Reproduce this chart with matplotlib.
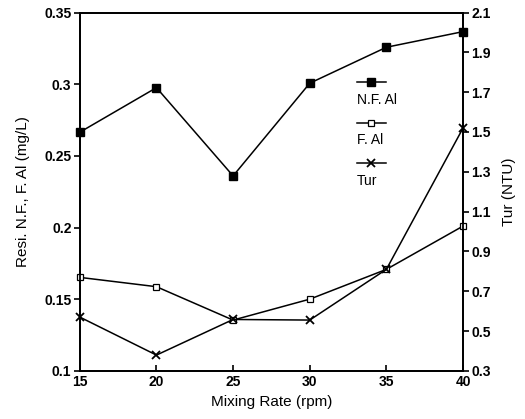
#mixing rate vs residual aluminium and turbidity

import matplotlib.pyplot as plt

plt.rcParams['font.family'] = ['Liberation Sans', 'DejaVu Sans']

#data
rate = [15, 20, 25, 30, 35, 40]
nf_al = [0.2665, 0.2976, 0.236, 0.3007, 0.3258, 0.3367]
f_al = [0.1652, 0.1587, 0.1354, 0.150, 0.1708, 0.201]
tur = [0.57, 0.379, 0.558, 0.555, 0.81, 1.52]

left_ticks = [0.1, 0.15, 0.2, 0.25, 0.3, 0.35]
right_ticks = [0.3, 0.5, 0.7, 0.9, 1.1, 1.3, 1.5, 1.7, 1.9, 2.1]

#create figure
fig = plt.figure(figsize=(5.25, 4.19), dpi=100)
ax = fig.add_axes([0.152, 0.115, 0.730, 0.855])
ax2 = ax.twinx()

#marker styles
nf_style = dict(marker='s', ms=5.5, mfc='black')
f_style = dict(marker='s', ms=5, mfc='white', mew=0.9)
tur_style = dict(marker='x', ms=5.5, mew=1.3)

#plot the three series
ax.plot(rate, nf_al, color='black', lw=1.1, clip_on=False, zorder=5, **nf_style)
ax.plot(rate, f_al, color='black', lw=1.1, clip_on=False, zorder=5, **f_style)
ax2.plot(rate, tur, color='black', lw=1.1, clip_on=False, zorder=5, **tur_style)

ax.set_xlim(15, 40)
ax.set_ylim(0.1, 0.35)
ax2.set_ylim(0.3, 2.1)

ax.set_xticks(rate)
ax.set_yticks(left_ticks)
ax.set_yticklabels([('%g' % v) for v in left_ticks])
ax2.set_yticks(right_ticks)
ax2.set_yticklabels([('%.1f' % v) for v in right_ticks])

for a in (ax, ax2):
    for s in a.spines.values():
        s.set_linewidth(1.3)
    a.tick_params(labelsize=10, width=1.2, length=4)
for lab in ax.get_xticklabels() + ax.get_yticklabels() + ax2.get_yticklabels():
    lab.set_fontweight('bold')
ax.tick_params(axis='x', direction='in', pad=3)
ax.tick_params(axis='y', pad=2)
ax2.tick_params(axis='y', pad=2)

#label axes
ax.set_xlabel("Mixing Rate (rpm)", fontsize=11, labelpad=4)
ax.set_ylabel("Resi. N.F., F. Al (mg/L)", fontsize=11, labelpad=10)
ax2.set_ylabel("Tur (NTU)", fontsize=11, labelpad=8)

#legend with the label under each sample line
keys = [("N.F. Al", nf_style), ("F. Al", f_style), ("Tur", tur_style)]
y0 = 0.806
for i, (name, style) in enumerate(keys):
    yy = y0 - i * 0.113
    ax.plot([0.723, 0.76, 0.80], [yy, yy, yy], color='black', lw=1.1,
            transform=ax.transAxes, clip_on=False, markevery=[1], **style)
    ax.text(0.723, yy - 0.05, name, transform=ax.transAxes, fontsize=10, va='center')

fig.savefig("out.png", dpi=100)
